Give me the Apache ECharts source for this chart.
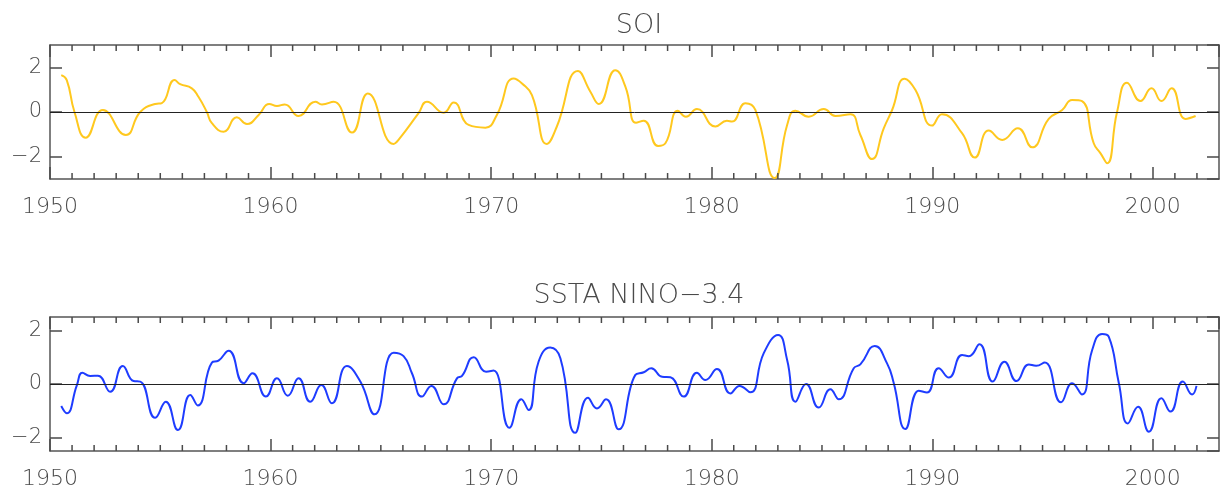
<!DOCTYPE html>
<html>
<head>
<meta charset="utf-8">
<script src="https://cdn.jsdelivr.net/npm/echarts@6/dist/echarts.min.js"></script>
<style>
html,body{margin:0;padding:0;background:#fff;}
#chart{width:1223px;height:492px;}
</style>
</head>
<body>
<div id="chart"></div>
<script>
// ---- Data ----
const soiYears = [1950.51,1950.76,1951.11,1951.62,1952.4,1953.44,1954.09,1954.77,1955.07,1955.65,1955.9,1956.43,1956.73,1957.11,1957.34,1957.87,1958.47,1958.93,1959.46,1959.94,1960.29,1960.64,1961.27,1962.03,1962.33,1962.86,1963.69,1964.41,1965.58,1965.8,1966.71,1967.09,1967.85,1968.3,1968.98,1969.74,1970.26,1971.02,1971.4,1971.85,1972.53,1972.98,1973.94,1974.5,1974.88,1975.63,1976.09,1976.57,1976.92,1977.57,1977.9,1978.47,1978.83,1979.33,1980.17,1980.69,1980.92,1981.53,1981.98,1982.86,1983.42,1983.8,1984.4,1985.08,1985.61,1986.29,1986.74,1987.27,1987.8,1988.18,1988.75,1989.24,1989.99,1990.44,1991.35,1991.93,1992.56,1993.17,1993.88,1994.53,1995.28,1995.89,1996.34,1996.79,1997.32,1997.63,1997.93,1998.38,1998.83,1999.44,1999.94,2000.39,2000.85,2001.48,2001.94];
const soiValues = [1.65,1.43,0.0,-1.15,0.09,-1.03,0.0,0.36,0.4,1.43,1.25,1.06,0.68,0.0,-0.5,-0.88,-0.24,-0.54,-0.13,0.36,0.27,0.34,-0.18,0.46,0.34,0.46,-0.92,0.83,-1.43,-1.25,-0.05,0.46,-0.03,0.43,-0.58,-0.7,-0.13,1.5,1.28,0.76,-1.43,-0.65,1.84,0.91,0.36,1.87,1.13,-0.48,-0.39,-1.52,-1.4,0.06,-0.21,0.13,-0.65,-0.39,-0.43,0.39,0.09,-2.96,-0.58,0.06,-0.21,0.13,-0.18,-0.1,-1.03,-2.11,-0.73,0.09,1.49,0.98,-0.61,-0.1,-0.95,-2.04,-0.83,-1.25,-0.73,-1.58,-0.31,0.09,0.54,0.49,-1.4,-1.85,-2.29,0.01,1.31,0.49,1.06,0.49,1.06,-0.31,-0.18];

const ninoYears = [1950.51,1950.76,1951.22,1951.47,1951.82,1952.17,1952.73,1953.3,1953.79,1954.09,1954.77,1955.25,1955.8,1956.36,1956.7,1957.34,1957.64,1958.1,1958.78,1959.18,1959.79,1960.29,1960.78,1961.27,1961.8,1962.3,1962.78,1963.46,1964.07,1964.72,1965.58,1966.03,1966.41,1966.86,1967.29,1967.85,1968.45,1968.68,1969.21,1969.77,1970.11,1970.83,1971.37,1971.7,1972.15,1972.68,1973.14,1973.82,1974.39,1974.8,1975.21,1975.78,1976.54,1976.92,1977.26,1977.75,1978.13,1978.73,1979.33,1979.71,1980.24,1980.85,1981.26,1981.75,1982.36,1983.01,1983.42,1983.8,1984.28,1984.85,1985.38,1985.76,1986.44,1986.74,1987.39,1987.95,1988.25,1988.78,1989.39,1989.76,1990.29,1990.75,1991.35,1991.66,1992.14,1992.74,1993.27,1993.82,1994.38,1994.71,1995.1,1995.84,1996.34,1996.79,1997.25,1997.7,1998.0,1998.46,1998.87,1999.33,1999.82,2000.39,2000.8,2001.36,2001.78,2001.98];
const ninoValues = [-0.82,-1.09,-0.04,0.42,0.3,0.31,-0.29,0.67,0.11,0.09,-1.26,-0.66,-1.72,-0.41,-0.8,0.8,0.87,1.24,0.03,0.4,-0.47,0.21,-0.44,0.21,-0.66,-0.04,-0.72,0.67,0.09,-1.13,1.17,1.04,0.4,-0.47,-0.07,-0.76,0.21,0.3,1.0,0.46,0.5,-1.63,-0.57,-0.97,0.83,1.36,0.96,-1.82,-0.51,-0.91,-0.57,-1.69,0.34,0.44,0.59,0.27,0.25,-0.47,0.42,0.15,0.56,-0.35,-0.07,-0.31,1.15,1.83,0.9,-0.66,0.0,-0.88,-0.2,-0.57,0.59,0.73,1.42,0.77,0.05,-1.68,-0.25,-0.32,0.59,0.24,1.08,1.04,1.48,0.09,0.83,0.11,0.73,0.68,0.8,-0.68,0.03,-0.39,1.27,1.87,1.77,0.03,-1.47,-0.85,-1.78,-0.53,-1.03,0.09,-0.39,-0.07];

const xMin = 1950, xMax = 2003;
const majorYears = [1950, 1960, 1970, 1980, 1990, 2000];
const minorYears = [];
for (let y = 1951; y <= 2002; y++) { if (majorYears.indexOf(y) < 0) minorYears.push(y); }
const yTicks = [-2, 0, 2];
const yTickLabels = ['\u22122', '0', '2'];
const titles = ['SOI', 'SSTA NINO\u22123.4'];

// ---- Chart ----
const chart = echarts.init(document.getElementById('chart'), null, {renderer: 'canvas'});
const AX = '#555555';
const TICK = '#4a4a4a';
const FONT = 'DejaVu Sans';
const zip = (xs, ys) => xs.map((x, i) => [x, ys[i]]);

const grids = [
  {left: 50, right: 4, top: 45, height: 134, outerBoundsMode: 'none'},
  {left: 50, right: 4, top: 317, height: 134, outerBoundsMode: 'none'}
];
const yRanges = [[-3, 3], [-2.5, 2.5]];

const xAxes = [];
const yAxes = [];
grids.forEach((g, gi) => {
  xAxes.push({gridIndex: gi, type: 'value', min: xMin, max: xMax, interval: 10, position: 'bottom',
    splitLine: {show: false},
    axisLine: {show: true, onZero: false, lineStyle: {color: AX, width: 1.5}},
    axisTick: {show: true, inside: true, length: 12, lineStyle: {color: TICK, width: 1.5}},
    axisLabel: {show: true, showMaxLabel: false, margin: 17, color: '#4a4a4a', fontSize: 22, fontFamily: FONT, fontWeight: 300,
      formatter: v => (majorYears.indexOf(v) >= 0 ? String(v) : '')}
  });
  xAxes.push({gridIndex: gi, type: 'value', min: xMin, max: xMax, interval: 10, position: 'top',
    splitLine: {show: false},
    axisLine: {show: true, onZero: false, lineStyle: {color: AX, width: 1.5}},
    axisTick: {show: true, inside: true, length: 12, lineStyle: {color: TICK, width: 1.5}},
    axisLabel: {show: false}
  });
  yAxes.push({gridIndex: gi, type: 'value', min: yRanges[gi][0], max: yRanges[gi][1], splitNumber: 3, position: 'left',
    splitLine: {show: false},
    axisLine: {show: true, onZero: false, lineStyle: {color: AX, width: 1.5}},
    axisTick: {show: true, inside: true, length: 12, lineStyle: {color: TICK, width: 1.5}},
    axisLabel: {show: true, showMinLabel: false, showMaxLabel: false, margin: 8, color: '#4a4a4a', fontSize: 21, fontFamily: FONT, fontWeight: 300,
      formatter: v => { const k = yTicks.indexOf(v); return k >= 0 ? yTickLabels[k] : ''; }}
  });
  yAxes.push({gridIndex: gi, type: 'value', min: yRanges[gi][0], max: yRanges[gi][1], splitNumber: 3, position: 'right',
    splitLine: {show: false},
    axisLine: {show: true, onZero: false, lineStyle: {color: AX, width: 1.5}},
    axisTick: {show: true, inside: true, length: 12, lineStyle: {color: TICK, width: 1.5}},
    axisLabel: {show: false}
  });
});

const option = {
  animation: false,
  backgroundColor: '#ffffff',
  title: titles.map((t, i) => ({
    text: t, left: 634, textAlign: 'center', top: i === 0 ? 7 : 277,
    textStyle: {fontSize: 27, fontWeight: 300, color: '#4a4a4a', fontFamily: FONT}
  })),
  grid: grids,
  xAxis: xAxes,
  yAxis: yAxes,
  series: [
    {type: 'line', xAxisIndex: 0, yAxisIndex: 0, data: zip(soiYears, soiValues), smooth: 0.5,
     showSymbol: false, lineStyle: {color: '#FFC81E', width: 2}, z: 3,
     markLine: {silent: true, symbol: 'none', label: {show: false}, lineStyle: {color: '#222', width: 1, type: 'solid'}, data: [{yAxis: 0}]}},
    {type: 'line', xAxisIndex: 2, yAxisIndex: 2, data: zip(ninoYears, ninoValues), smooth: 0.5,
     showSymbol: false, lineStyle: {color: '#1E3CFF', width: 2}, z: 3,
     markLine: {silent: true, symbol: 'none', label: {show: false}, lineStyle: {color: '#222', width: 1, type: 'solid'}, data: [{yAxis: 0}]}}
  ]
};
chart.setOption(option);

// ---- minor tick marks (every year), positioned through the axes' own scales ----
const tickEls = [];
try {
  grids.forEach((g, gi) => {
    const finder = {xAxisIndex: gi * 2, yAxisIndex: gi * 2};
    const [yLo, yHi] = yRanges[gi];
    minorYears.forEach(yr => {
      const pb = chart.convertToPixel(finder, [yr, yLo]);
      const pt = chart.convertToPixel(finder, [yr, yHi]);
      tickEls.push({type: 'line', silent: true, z: 100, shape: {x1: pb[0], y1: pb[1], x2: pb[0], y2: pb[1] - 6}, style: {stroke: TICK, lineWidth: 1.5}});
      tickEls.push({type: 'line', silent: true, z: 100, shape: {x1: pt[0], y1: pt[1], x2: pt[0], y2: pt[1] + 6}, style: {stroke: TICK, lineWidth: 1.5}});
    });
  });
} catch (e) { /* ticks are decorative */ }
chart.setOption({graphic: {elements: tickEls}});
</script>
</body>
</html>
